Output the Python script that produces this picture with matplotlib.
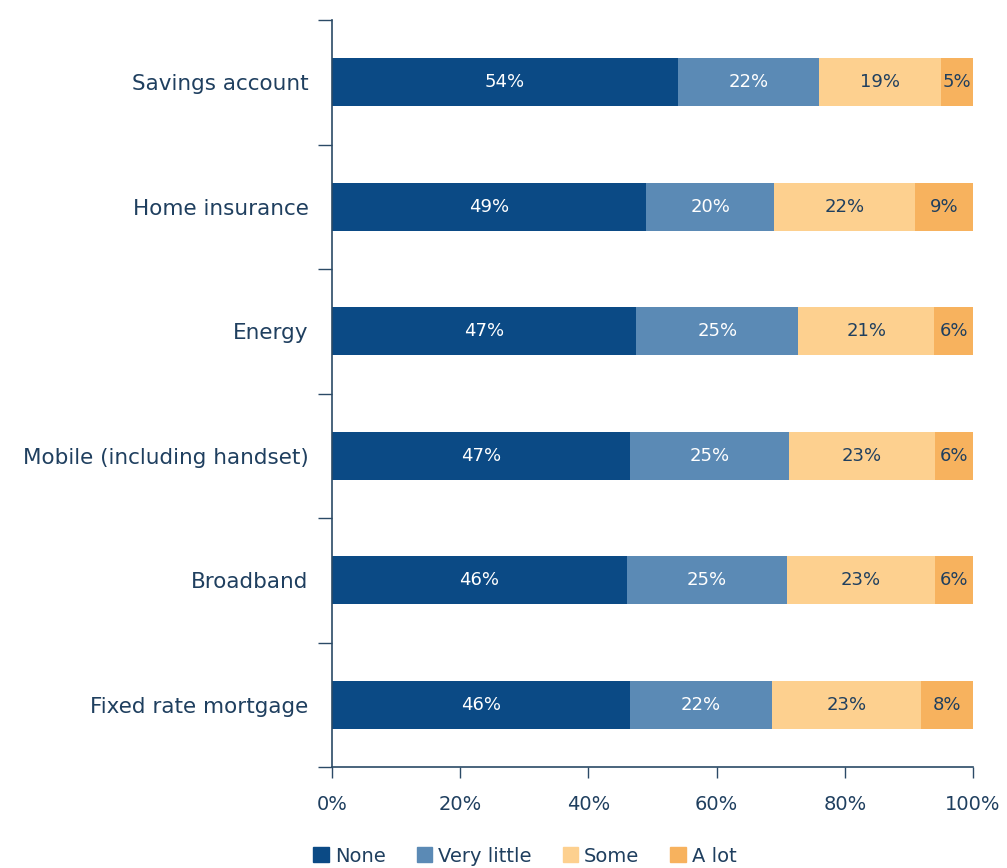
import matplotlib
matplotlib.use("Agg")
import matplotlib.pyplot as plt
import numpy as np
from matplotlib.patches import Patch

plt.rcParams['font.family'] = ['DejaVu Sans']

categories = ["Savings account", "Home insurance", "Energy",
              "Mobile (including handset)", "Broadband", "Fixed rate mortgage"]
series_names = ["None", "Very little", "Some", "A lot"]
none_vals = [54, 49, 47, 47, 46, 46]
very_little = [22, 20, 25, 25, 25, 22]
some_vals = [19, 22, 21, 23, 23, 23]
a_lot = [5, 9, 6, 6, 6, 8]

colors = ["#0b4a85", "#5b8ab5", "#fdd08f", "#f7b25e"]
label_colors = ["white", "white", "#1f3f5f", "#1f3f5f"]
text_color = "#1f3f5f"
axis_color = "#2b4a66"

data = np.array([none_vals, very_little, some_vals, a_lot], dtype=float)
norm = data / data.sum(axis=0) * 100

fig = plt.figure(figsize=(10.07, 8.68), dpi=100)
ax = fig.add_axes([332/1007, 1-767/868, (973-332)/1007, (767-20)/868])

y = np.arange(len(categories))
left = np.zeros(len(categories))
for i, name in enumerate(series_names):
    ax.barh(y, norm[i], left=left, height=0.385, color=colors[i], label=name)
    for j in range(len(categories)):
        ax.text(left[j] + norm[i][j] / 2, y[j], f"{int(data[i][j])}%",
                ha="center", va="center", color=label_colors[i], fontsize=13)
    left += norm[i]

ax.set_ylim(len(categories) - 0.5, -0.5)
ax.set_xlim(0, 100)
ax.set_yticks(y)
ax.set_yticklabels(categories, fontsize=15.5, color=text_color)
ax.set_yticks(np.arange(-0.5, len(categories), 1), minor=True)
ax.tick_params(axis='y', which='major', length=0, pad=17)
ax.tick_params(axis='y', which='minor', length=10, direction='out', color=axis_color, width=1)
ax.set_xticks([0, 20, 40, 60, 80, 100])
ax.set_xticklabels(["0%", "20%", "40%", "60%", "80%", "100%"], fontsize=14, color=text_color)
ax.tick_params(axis='x', length=8, direction='out', color=axis_color, width=1, pad=12)

for s in ["top", "right"]:
    ax.spines[s].set_visible(False)
for s in ["left", "bottom"]:
    ax.spines[s].set_color(axis_color)
    ax.spines[s].set_linewidth(1.2)

handles = [Patch(facecolor=c, edgecolor=c) for c in colors]
fig.legend(handles, series_names, loc="center", bbox_to_anchor=(525/1007, 1-856/868),
           ncol=4, frameon=False, fontsize=14, labelcolor=text_color,
           handlelength=0.8, handleheight=0.8, handletextpad=0.3, columnspacing=1.6)

fig.savefig("out.png", dpi=100)
